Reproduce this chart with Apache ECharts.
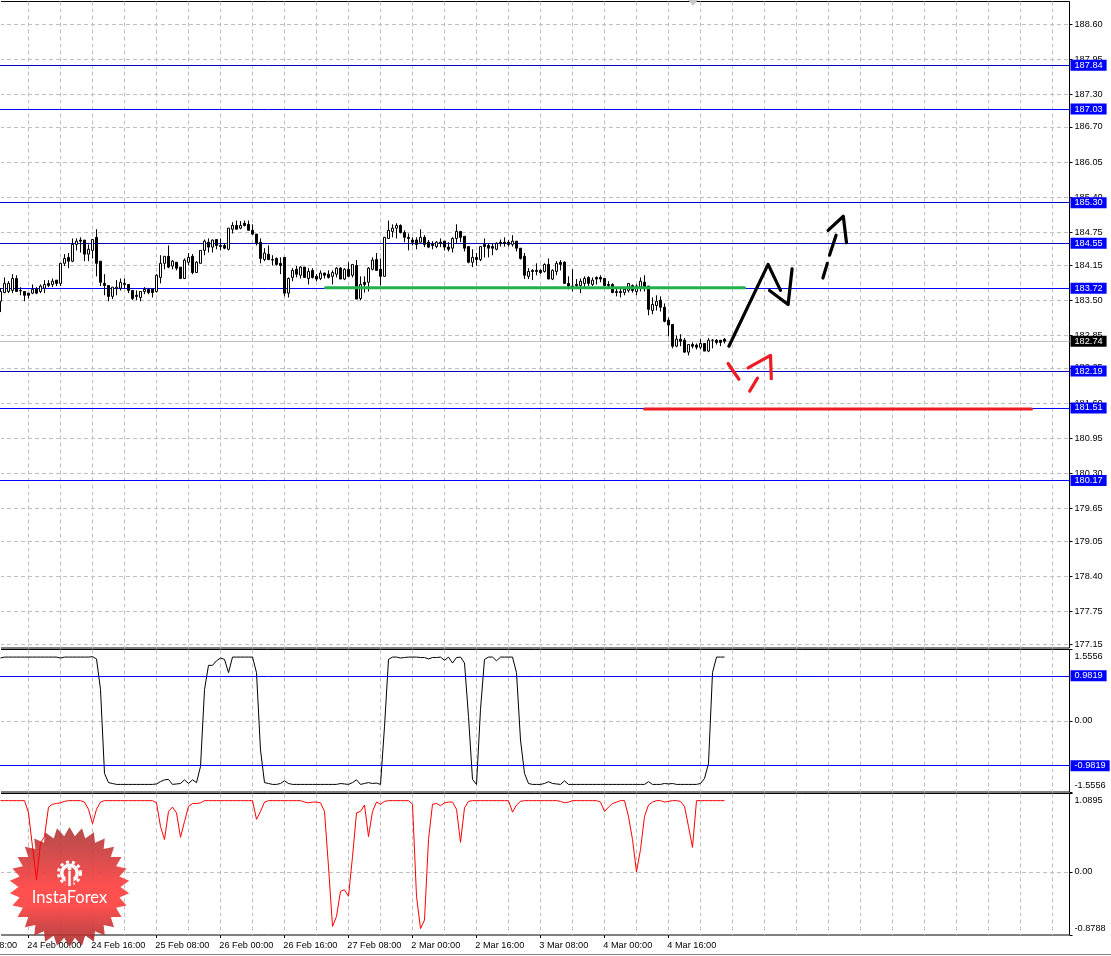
<!DOCTYPE html>
<html><head><meta charset="utf-8">
<style>html,body{margin:0;padding:0;background:#fff}#c{width:1111px;height:956px}</style>
<script src="https://cdn.jsdelivr.net/npm/echarts@6/dist/echarts.min.js"></script>
</head><body><div id="c"></div>
<script>
// [open, close, low, high] of each hourly bar
const ohlc = [
[183.48,183.66,183.28,183.72],[183.64,183.81,183.63,183.92],[183.66,183.81,183.63,183.85],[183.68,183.90,183.63,183.98],
[183.90,183.66,183.66,183.96],[183.68,183.67,183.59,183.74],[183.66,183.59,183.48,183.66],[183.63,183.59,183.53,183.63],
[183.63,183.70,183.61,183.79],[183.70,183.63,183.61,183.74],[183.66,183.76,183.63,183.79],[183.72,183.79,183.63,183.87],
[183.81,183.77,183.74,183.87],[183.79,183.85,183.74,183.90],[183.87,183.81,183.76,183.87],[183.81,184.18,183.76,184.18],
[184.18,184.27,184.13,184.35],[184.29,184.22,184.09,184.37],[184.22,184.53,184.20,184.64],[184.53,184.59,184.42,184.64],
[184.61,184.59,184.38,184.66],[184.61,184.35,184.22,184.61],[184.35,184.44,184.22,184.53],[184.42,184.62,184.27,184.62],
[184.66,184.18,183.94,184.81],[184.22,183.83,183.76,184.22],[183.81,183.77,183.59,183.98],[183.77,183.57,183.48,183.77],
[183.57,183.74,183.52,183.74],[183.72,183.74,183.59,183.87],[183.72,183.83,183.68,183.90],[183.81,183.79,183.72,183.90],
[183.79,183.68,183.63,183.79],[183.68,183.53,183.50,183.68],[183.59,183.57,183.50,183.68],[183.55,183.66,183.48,183.66],
[183.66,183.70,183.61,183.74],[183.70,183.64,183.61,183.72],[183.70,183.64,183.55,183.70],[183.66,183.96,183.64,183.98],
[183.92,184.18,183.81,184.33],[184.18,184.31,184.07,184.31],[184.31,184.11,184.09,184.51],[184.13,184.22,184.07,184.24],
[184.20,184.09,184.05,184.20],[184.11,183.90,183.89,184.11],[183.90,184.24,183.89,184.27],[184.20,184.29,184.14,184.37],
[184.31,184.01,183.98,184.35],[184.01,184.20,184.01,184.22],[184.18,184.42,184.18,184.42],[184.42,184.59,184.33,184.62],
[184.57,184.48,184.38,184.64],[184.48,184.61,184.38,184.62],[184.62,184.51,184.44,184.62],[184.51,184.49,184.42,184.64],
[184.51,184.46,184.44,184.55],[184.44,184.83,184.42,184.83],[184.81,184.88,184.73,184.94],[184.88,184.81,184.81,184.97],
[184.83,184.88,184.81,184.96],[184.92,184.88,184.86,184.97],[184.90,184.79,184.79,184.97],[184.79,184.72,184.70,184.90],
[184.72,184.55,184.51,184.72],[184.57,184.27,184.18,184.64],[184.25,184.37,184.22,184.46],[184.35,184.25,184.24,184.51],
[184.25,184.24,184.14,184.33],[184.27,184.16,184.14,184.29],[184.18,184.14,183.98,184.29],[184.29,183.63,183.57,184.29],
[183.63,183.90,183.55,183.92],[183.92,184.05,183.85,184.09],[184.07,183.98,183.92,184.13],[183.96,184.11,183.90,184.13],
[184.11,183.92,183.92,184.11],[183.90,184.03,183.79,184.09],[184.05,183.92,183.90,184.09],[183.94,183.89,183.85,183.98],
[183.90,184.00,183.87,184.05],[184.00,183.96,183.90,184.01],[183.98,183.92,183.90,184.05],[183.94,184.01,183.79,184.05],
[183.98,184.09,183.92,184.11],[184.09,183.89,183.89,184.11],[183.89,184.07,183.87,184.09],[184.07,183.94,183.94,184.20],
[183.96,184.16,183.92,184.16],[184.14,183.52,183.52,184.24],[183.53,183.79,183.50,183.94],[183.83,183.79,183.64,183.94],
[183.83,184.09,183.66,184.11],[184.07,184.24,184.05,184.29],[184.25,184.05,184.05,184.37],[184.07,183.94,183.77,184.27],
[183.94,184.66,183.94,184.66],[184.64,184.79,184.64,184.97],[184.77,184.83,184.66,184.90],[184.83,184.88,184.64,184.92],
[184.88,184.75,184.73,184.90],[184.75,184.66,184.57,184.79],[184.66,184.64,184.42,184.73],[184.61,184.57,184.51,184.66],
[184.61,184.53,184.44,184.66],[184.57,184.66,184.57,184.81],[184.66,184.53,184.48,184.70],[184.57,184.48,184.46,184.61],
[184.53,184.51,184.44,184.59],[184.49,184.57,184.46,184.59],[184.57,184.55,184.48,184.64],[184.59,184.48,184.42,184.59],
[184.48,184.44,184.40,184.57],[184.46,184.64,184.38,184.66],[184.64,184.77,184.55,184.90],[184.77,184.66,184.57,184.77],
[184.68,184.46,184.40,184.68],[184.49,184.20,184.18,184.49],[184.20,184.29,184.11,184.44],[184.29,184.25,184.14,184.37],
[184.25,184.49,184.22,184.49],[184.53,184.49,184.29,184.64],[184.51,184.46,184.29,184.55],[184.49,184.46,184.33,184.55],
[184.44,184.55,184.42,184.57],[184.57,184.55,184.49,184.62],[184.57,184.55,184.49,184.66],[184.57,184.53,184.49,184.61],
[184.53,184.59,184.49,184.70],[184.59,184.46,184.40,184.59],[184.46,184.27,184.25,184.46],[184.31,183.96,183.89,184.37],
[183.94,184.03,183.89,184.09],[184.05,184.03,183.87,184.07],[184.05,184.03,183.96,184.18],[184.05,184.01,183.98,184.07],
[184.03,184.16,184.01,184.18],[184.16,183.89,183.89,184.27],[183.89,184.05,183.87,184.07],[184.03,184.18,183.96,184.22],
[184.20,184.16,184.05,184.24],[184.20,183.81,183.81,184.22],[183.81,183.76,183.70,183.94],[183.76,183.74,183.66,184.07],
[183.79,183.77,183.72,183.89],[183.77,183.85,183.63,183.90],[183.81,183.90,183.74,183.94],[183.92,183.81,183.76,183.94],
[183.79,183.87,183.76,183.92],[183.92,183.89,183.79,183.94],[183.92,183.89,183.83,183.96],[183.90,183.77,183.76,183.90],
[183.79,183.77,183.74,183.85],[183.79,183.64,183.63,183.81],[183.66,183.64,183.57,183.72],[183.66,183.64,183.55,183.72],
[183.64,183.70,183.59,183.74],[183.68,183.81,183.64,183.81],[183.77,183.68,183.64,183.79],[183.66,183.76,183.59,183.79],
[183.74,183.85,183.66,183.92],[183.83,183.72,183.66,183.96],[183.76,183.33,183.22,183.76],[183.31,183.42,183.24,183.55],
[183.40,183.48,183.31,183.59],[183.50,183.37,183.29,183.57],[183.37,183.11,183.09,183.44],[183.13,183.04,182.83,183.18],
[183.05,182.65,182.61,183.05],[182.65,182.78,182.63,182.85],[182.78,182.74,182.65,182.87],[182.76,182.54,182.54,182.80],
[182.54,182.68,182.48,182.68],[182.68,182.65,182.61,182.72],[182.67,182.63,182.59,182.70],[182.63,182.70,182.59,182.78],
[182.70,182.56,182.56,182.70],[182.56,182.76,182.54,182.80],[182.76,182.76,182.61,182.78],[182.76,182.72,182.68,182.78],
[182.76,182.72,182.65,182.76],[182.78,182.74,182.70,182.80]
];
const oscillatorA = [
1.37,1.39,1.39,1.39,1.39,1.39,1.39,1.39,1.39,1.39,1.39,1.39,1.39,1.39,1.39,1.37,1.39,1.39,1.39,1.39,1.39,1.39,1.39,1.40,1.35,0.68,-1.15,-1.35,-1.37,
-1.39,-1.39,-1.39,-1.39,-1.39,-1.39,-1.39,-1.39,-1.39,-1.39,-1.38,-1.33,-1.29,-1.28,-1.39,-1.38,-1.37,-1.29,-1.37,-1.29,-1.35,-1.00,0.68,1.21,1.21,1.31,1.37,1.34,1.05,
1.39,1.39,1.39,1.39,1.39,1.39,1.05,-0.64,-1.35,-1.37,-1.39,-1.39,-1.37,-1.31,-1.37,
-1.39,-1.39,-1.39,-1.39,-1.39,-1.39,-1.39,-1.39,-1.39,-1.39,-1.39,-1.39,-1.37,-1.38,-1.39,-1.35,-1.29,-1.39,-1.37,-1.35,-1.37,-1.36,-1.39,-0.13,1.34,
1.39,1.39,1.37,1.38,1.39,1.39,1.39,1.38,1.38,1.35,1.38,1.38,1.39,1.32,1.39,1.26,1.38,1.39,1.26,0.09,-1.28,-1.39,0.25,1.34,1.39,1.39,1.31,
1.39,1.39,1.39,1.39,1.05,-0.42,-1.15,-1.37,-1.39,-1.39,-1.39,-1.37,-1.33,-1.37,-1.38,-1.39,-1.31,
-1.39,-1.39,-1.39,-1.39,-1.39,-1.39,-1.39,-1.39,-1.39,-1.39,-1.39,-1.39,-1.39,-1.39,-1.39,-1.39,-1.39,-1.39,-1.39,-1.39,-1.33,-1.39,-1.39,-1.39,-1.37,-1.38,-1.37,
-1.39,-1.39,-1.39,-1.39,-1.39,-1.39,-1.37,-1.26,-0.93,1.05,1.39,1.39,1.39
];
const oscillatorB = [
0.99,0.99,0.99,0.99,0.99,0.99,0.99,0.82,0.35,-0.11,0.40,0.49,0.90,0.94,0.95,0.96,0.98,0.99,0.99,0.99,0.99,0.97,0.87,0.67,0.87,0.97,
0.99,0.99,0.99,0.99,0.99,0.99,0.99,0.99,0.99,0.99,0.99,0.99,0.99,0.96,0.63,0.45,0.84,0.90,0.82,0.48,0.70,0.91,0.95,0.95,0.96,
0.99,0.99,0.99,0.99,0.99,0.99,0.99,0.99,0.99,0.99,0.99,0.99,0.99,0.73,0.84,0.97,0.99,0.99,0.99,0.99,0.99,0.99,0.99,0.99,0.99,
0.97,0.96,0.97,0.97,0.96,0.84,0.07,-0.76,-0.62,-0.27,-0.25,-0.34,0.21,0.82,0.84,0.93,0.49,0.84,0.97,0.94,0.98,
0.99,0.99,0.99,0.99,0.99,0.99,0.94,-0.34,-0.79,-0.67,0.45,0.94,0.95,0.92,0.96,0.97,0.97,0.87,0.41,0.89,0.98,
0.99,0.99,0.99,0.99,0.99,0.99,0.99,0.99,0.99,0.99,0.83,0.93,0.98,0.99,0.99,0.99,0.99,0.99,0.99,0.99,0.99,0.99,0.98,0.96,0.97,
0.99,0.99,0.99,0.99,0.99,0.99,0.99,0.97,0.84,0.90,0.95,0.97,0.99,0.99,0.77,0.45,0,0.31,0.77,0.93,0.97,0.99,0.99,0.97,0.98,0.99,0.99,0.98,0.91,0.63,0.34,
0.99,0.99,0.99,0.99,0.99,0.99,0.99,0.99
];
const priceTicks = [188.60,187.95,187.30,186.70,186.05,185.40,184.75,184.15,183.50,182.85,182.25,181.60,180.95,180.30,179.65,179.05,178.40,177.75,177.15];
const oscATicks = [-1.5556,0,1.5556];
const oscBTicks = [-0.8788,0,1.0895];
const oscGrid = [0];
const gridBars = [7,15,23,31,39,47,55,63,71,79,87,95,103,111,119,127,135,143,151,159,167,175,183,191,199,207,215,223,231,239,247,255,263];
const timeBars = [7,23,39,55,71,87,103,119,135,151,167];
const timeLabels = ['24 Feb 00:00','24 Feb 16:00','25 Feb 08:00','26 Feb 00:00','26 Feb 16:00','27 Feb 08:00','2 Mar 00:00','2 Mar 16:00','3 Mar 08:00','4 Mar 00:00','4 Mar 16:00'];
const levelsBlue = [187.03,183.72,181.51,180.17];
const levelsDark = [187.84,185.30,184.55,182.19];
const lastPrice = 182.74;
const oscALevels = [0.9819,-0.9819];
// hand-drawn annotations, [bar, price]
const greenLevel = [[81.25,183.73],[186,183.73]];
const redLevel = [[161,181.49],[257.75,181.49]];
const blackStrokes = [
 [[182.1,182.65],[191.9,184.16],[195,183.68]],
 [[192.25,183.68],[196.9,183.42],[197.9,184.08]],
 [[205.6,183.91],[206.7,184.18]],
 [[207.25,184.33],[208.9,184.70]],
 [[206.9,184.79],[210.7,185.05],[211.5,184.56]]
];
const redStrokes = [
 [[181.9,182.33],[184.6,182.04]],
 [[187.3,181.82],[189.25,182.06]],
 [[186.9,182.25],[192.5,182.48],[192.7,182.05]]
];

const FONT = 'Liberation Sans';
const FS = 9.2;
const GRID_LINE = {show:true, lineStyle:{color:'#c0c0c0', type:[4,3], width:1}};
const xMin = -0.125, xMax = 267.25;
const labelShift = 0.3;
const NO_LINE = {show:false, onZero:false};

function tag(value, text, bg, lineColor){
  return {yAxis:value, lineStyle:{color:lineColor, width:1, type:'solid'},
    label:{show:true, position:'end', formatter:text, distance:1, color:'#fff', backgroundColor:bg,
      fontFamily:FONT, fontSize:FS, padding:[1,4,0,4], lineHeight:10, align:'left'}};
}
function xAxisBase(g){
  return {type:'value', gridIndex:g, min:xMin, max:xMax, axisLine:NO_LINE,
    axisTick:{show:false, customValues:gridBars}, axisLabel:{show:false, customValues:gridBars}, splitLine:GRID_LINE};
}
function yAxisMain(g, min, max, ticks, fmt){
  return {type:'value', gridIndex:g, position:'right', min, max, axisLine:NO_LINE,
    axisTick:{show:true, length:3, customValues:ticks, lineStyle:{color:'#000'}},
    axisLabel:{show:true, customValues:ticks, formatter:fmt, color:'#000', fontFamily:FONT, fontSize:FS, margin:5},
    splitLine:GRID_LINE};
}
function yAxisGridOnly(g, min, max){
  return {type:'value', gridIndex:g, position:'right', min, max, axisLine:NO_LINE,
    axisTick:{show:false, customValues:oscGrid}, axisLabel:{show:false, customValues:oscGrid}, splitLine:GRID_LINE};
}
function yAxisLabels(g, min, max, ticks, fmt){
  return {type:'value', gridIndex:g, position:'right', min, max, axisLine:NO_LINE, splitLine:{show:false},
    axisTick:{show:true, length:3, customValues:ticks, lineStyle:{color:'#000'}},
    axisLabel:{show:true, customValues:ticks, formatter:fmt, color:'#000', fontFamily:FONT, fontSize:FS, margin:5, lineHeight:14,
      verticalAlignMaxLabel:'top', verticalAlignMinLabel:'bottom'}};
}
function strokeSeries(pts, color, width){
  return {type:'line', xAxisIndex:0, yAxisIndex:0, data:pts, showSymbol:false, symbol:'none', silent:true, z:6,
    lineStyle:{color, width, cap:'round', join:'round'}, clip:false, animation:false};
}
const fmtOsc = v=>v===0?'0.00':v.toFixed(4);

const starPts = [];
for (let k=0;k<60;k++){ const a=k*Math.PI/30-Math.PI/2, r=k%2?51:60; starPts.push([69.5+r*Math.cos(a),887+r*Math.sin(a)]); }

const option = {
  animation:false, backgroundColor:'#fff',
  grid:[
    {left:0, width:1069.5, top:1.5, height:646.5, show:true, borderColor:'#000', borderWidth:1, backgroundColor:'transparent'},
    {left:0, width:1069.5, top:649.5, height:142.5, show:true, borderColor:'#000', borderWidth:1, backgroundColor:'transparent'},
    {left:0, width:1069.5, top:793.5, height:141.5, show:true, borderColor:'#000', borderWidth:1, backgroundColor:'transparent'}
  ],
  xAxis:[ xAxisBase(0), xAxisBase(1), xAxisBase(2),
    {type:'value', gridIndex:2, min:xMin, max:xMax, position:'bottom', axisLine:NO_LINE, splitLine:{show:false},
     axisTick:{show:true, length:3, customValues:timeBars, lineStyle:{color:'#000'}},
     axisLabel:{show:false, customValues:timeBars}},
    {type:'value', gridIndex:2, min:xMin+labelShift, max:xMax+labelShift, position:'bottom', axisLine:NO_LINE, splitLine:{show:false},
     axisTick:{show:false, customValues:timeBars},
     axisLabel:{show:true, customValues:timeBars, formatter:v=>timeLabels[timeBars.indexOf(v)], align:'left', margin:6,
       color:'#000', fontFamily:FONT, fontSize:FS}}
  ],
  yAxis:[
    yAxisMain(0, 177.0765, 189.0155, priceTicks, v=>v.toFixed(2)),
    yAxisGridOnly(1, -1.5556, 1.5556),
    yAxisGridOnly(2, -0.8788, 1.0895),
    yAxisLabels(1, -1.5556, 1.5556, oscATicks, fmtOsc),
    yAxisLabels(2, -0.8788, 1.0895, oscBTicks, fmtOsc)
  ],
  graphic:[
    {type:'rect', silent:true, z:1, shape:{x:0,y:0,width:1,height:936}, style:{fill:'#fff'}},
    {type:'polygon', silent:true, z:1, shape:{points:starPts},
     style:{fill:{type:'linear',x:0,y:0,x2:0,y2:1,colorStops:[
       {offset:0,color:'rgba(168,45,45,0.85)'},{offset:0.5,color:'rgba(255,70,70,0.95)'},{offset:0.65,color:'rgba(255,70,70,0.95)'},{offset:1,color:'rgba(160,35,35,0.85)'}]}}},
    {type:'ring', silent:true, z:3, shape:{cx:69.5,cy:873,r:9.5,r0:6}, style:{fill:'#fff'}},
    {type:'circle', silent:true, z:3, shape:{cx:69.5,cy:873,r:11}, style:{fill:'none',stroke:'#fff',lineWidth:3,lineDash:[3,3]}},
    {type:'rect', silent:true, z:3, shape:{x:65.5,y:878,width:8,height:9}, style:{fill:'#f45050'}},
    {type:'rect', silent:true, z:3, shape:{x:68.3,y:871,width:2.4,height:15}, style:{fill:'#fff'}},
    {type:'circle', silent:true, z:3, shape:{cx:69.5,cy:868.5,r:2}, style:{fill:'#fff'}},
    {type:'text', silent:true, z:3, style:{x:69.5,y:898,text:'InstaForex',fill:'#fff',font:'16.5px Lato',align:'center',verticalAlign:'middle'}},
    {type:'polygon', silent:true, z:3, shape:{points:[[688,0],[698,0],[693,6]]}, style:{fill:'#c8c8c8'}},
    {type:'text', silent:true, z:8, style:{x:-37,y:945,text:'23 Feb 08:00',fill:'#000',font:FS+'px '+FONT,align:'left',verticalAlign:'middle'}},
    {type:'rect', silent:true, z:3, shape:{x:0,y:954,width:1111,height:1}, style:{fill:'#808080'}}
  ],
  series:[
    {type:'candlestick', xAxisIndex:0, yAxisIndex:0, barWidth:2.6, silent:true, z:4,
     data:ohlc.map((r,i)=>[i,r[0],r[1],r[2],r[3]]),
     itemStyle:{color:'#fff', color0:'#000', borderColor:'#000', borderColor0:'#000', borderWidth:1},
     markLine:{silent:true, symbol:'none', animation:false, z:3, data:[
       ...levelsBlue.map(v=>tag(v, v.toFixed(2), '#0000ff', '#0000ff')),
       ...levelsDark.map(v=>tag(v, v.toFixed(2), '#0000ff', '#0000c0')),
       tag(lastPrice, lastPrice.toFixed(2), '#000', '#c0c0c0')
     ]}},
    strokeSeries(greenLevel, '#22b14c', 3),
    strokeSeries(redLevel, '#ed1c24', 3),
    ...blackStrokes.map(s=>strokeSeries(s,'#000',3.2)),
    ...redStrokes.map(s=>strokeSeries(s,'#ed1c24',3.2)),
    {type:'line', xAxisIndex:1, yAxisIndex:1, silent:true, symbol:'none', showSymbol:false, z:4,
     data:oscillatorA.map((v,i)=>[i,v]), lineStyle:{color:'#000',width:1},
     markLine:{silent:true, symbol:'none', animation:false, data:oscALevels.map(v=>tag(v, v.toFixed(4), '#0000ff', '#0000ff'))}},
    {type:'line', xAxisIndex:2, yAxisIndex:2, silent:true, symbol:'none', showSymbol:false, z:4,
     data:oscillatorB.map((v,i)=>[i,v]), lineStyle:{color:'#ff0000',width:1}}
  ]
};
const chart = echarts.init(document.getElementById('c'), null, {renderer:'canvas', width:1111, height:956});
chart.setOption(option);
</script></body></html>
